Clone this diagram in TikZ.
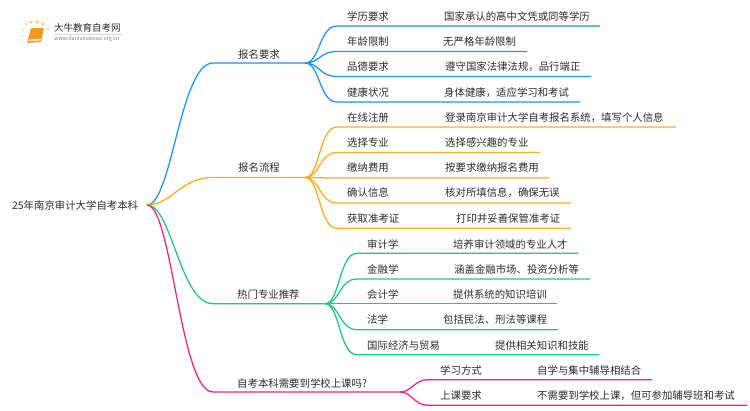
\documentclass[tikz,border=0pt]{standalone}
\usepackage{fontspec}
\setmainfont{Noto Sans CJK SC}
\definecolor{bluebr}{HTML}{1E90FF}
\definecolor{orangebr}{HTML}{FFAD1F}
\definecolor{greenbr}{HTML}{1FC77E}
\definecolor{pinkbr}{HTML}{FF1F7E}
\definecolor{inktext}{HTML}{2B2B2B}
\definecolor{logodotc}{HTML}{FBD27A}
\definecolor{bookc}{HTML}{F39A1E}
\newcommand{\zhcomma}{\char"FF0C\relax}
\tikzset{
	txt/.style={anchor=west, inner sep=0, yshift=-0.8pt, text=inktext, font=\fontsize{10.4}{12}\selectfont},
	logodot/.style={fill=logodotc},
	br/.style={line width=1.25pt}
}
\begin{document}
\begin{tikzpicture}[x=1pt, y=-1pt]
\useasboundingbox (0,0) rectangle (750,410);

% logo
\foreach \dx/\dy/\r in {23/30/1.2, 26/24/1.4, 31/22/1.6, 37/22/1.8, 43/24/1.8, 48/29/1.5, 22/36/1, 23/42/0.8}
	\fill[logodot] (\dx,\dy) circle (\r);
\fill[bookc, rounded corners=1pt] (31,28) -- (44,28) -- (41,42) -- (27,43) -- cycle;
\fill[white!70!bookc] (29,39.5) -- (41,38.5) -- (40.4,40.5) -- (28.5,41.5) -- cycle;
\node[txt, font=\fontsize{9.5}{11}\selectfont] (logoName) at (54,27) {大牛教育自考网};
\node[txt, text=gray, font=\fontsize{5.4}{6}\selectfont] (logoUrl) at (54,38.5) {www.daniuxuexiao.org.cn};
\draw[gray!30, line width=0.5pt] (logoName.south west) ++(0,1.5) -- ++(68,0);

\node[txt] (root) at (12,205) {25年南京审计大学自考本科};
\coordinate (hub) at (147,205);

\coordinate (reqStart) at (213,63);
\coordinate (reqHub) at (305,63);
\coordinate (flowStart) at (213,177.5);
\coordinate (flowHub) at (305,177.5);
\coordinate (hotStart) at (213,303.7);
\coordinate (hotHub) at (325,303.7);
\coordinate (askStart) at (213,392);
\coordinate (askHub) at (400,392);

\node[txt] (req) at (238,54) {报名要求};
\node[txt] (flow) at (238,167) {报名流程};
\node[txt] (hot) at (237,294) {热门专业推荐};
\node[txt] (ask) at (237,382.5) {自考本科需要到学校上课吗?};

% first branch
\foreach \n/\y/\e in {a/26/600, b/51.5/527, c/76.5/591, d/102/580} {
	\coordinate (req\n) at (337,\y);
	\coordinate (req\n End) at (\e,\y);
	\draw[bluebr, br] (reqHub) .. controls +(15,0) and +(-18,0) .. (req\n) -- (req\n End);
}
\node[txt] (eduKey) at (347,16) {学历要求};
\node[txt] (eduVal) at (444,16) {国家承认的高中文凭或同等学历};
\node[txt] (ageKey) at (347,41) {年龄限制};
\node[txt] (ageVal) at (443,41) {无严格年龄限制};
\node[txt] (morKey) at (347,66) {品德要求};
\node[txt] (morVal) at (445,66) {遵守国家法律法规\zhcomma 品行端正};
\node[txt] (heaKey) at (347,92) {健康状况};
\node[txt] (heaVal) at (444,92) {身体健康\zhcomma 适应学习和考试};

% second branch
\foreach \n/\y/\e in {a/127/676, b/152.5/540, c/178/549, d/203/571, e/228.3/571} {
	\coordinate (flow\n) at (337,\y);
	\coordinate (flow\n End) at (\e,\y);
	\draw[orangebr, br] (flowHub) .. controls +(15,0) and +(-18,0) .. (flow\n) -- (flow\n End);
}
\node[txt] (regKey) at (347,117) {在线注册};
\node[txt] (regVal) at (445,117) {登录南京审计大学自考报名系统\zhcomma 填写个人信息};
\node[txt] (majKey) at (347,142) {选择专业};
\node[txt] (majVal) at (445,142) {选择感兴趣的专业};
\node[txt] (payKey) at (347,167) {缴纳费用};
\node[txt] (payVal) at (445,167) {按要求缴纳报名费用};
\node[txt] (infKey) at (347,192) {确认信息};
\node[txt] (infVal) at (445,192) {核对所填信息\zhcomma 确保无误};
\node[txt] (admKey) at (347,218) {获取准考证};
\node[txt] (admVal) at (456,218) {打印并妥善保管准考证};

% third branch
\foreach \n/\y/\e in {a/253.3/578, b/279/590, c/303.7/557, d/329.7/558, e/354.7/599} {
	\coordinate (hot\n) at (357,\y);
	\coordinate (hot\n End) at (\e,\y);
	\draw[greenbr, br] (hotHub) .. controls +(15,0) and +(-18,0) .. (hot\n) -- (hot\n End);
}
\node[txt] (audKey) at (367,244) {审计学};
\node[txt] (audVal) at (453,244) {培养审计领域的专业人才};
\node[txt] (finKey) at (367,269) {金融学};
\node[txt] (finVal) at (454,269) {涵盖金融市场、投资分析等};
\node[txt] (accKey) at (367,294) {会计学};
\node[txt] (accVal) at (453,294) {提供系统的知识培训};
\node[txt] (lawKey) at (367,319) {法学};
\node[txt] (lawVal) at (443,319) {包括民法、刑法等课程};
\node[txt] (ietKey) at (367,345) {国际经济与贸易};
\node[txt] (ietVal) at (495,345) {提供相关知识和技能};

% fourth branch
\foreach \n/\y/\e in {a/379.7/652, b/405.3/747} {
	\coordinate (ask\n) at (428,\y);
	\coordinate (ask\n End) at (\e,\y);
	\draw[pinkbr, br] (askHub) .. controls +(12,0) and +(-14,0) .. (ask\n) -- (ask\n End);
}
\node[txt] (wayKey) at (440,370) {学习方式};
\node[txt] (wayVal) at (537,370) {自学与集中辅导相结合};
\node[txt] (clsKey) at (440,395) {上课要求};
\node[txt] (clsVal) at (537,395) {不需要到学校上课\zhcomma 但可参加辅导班和考试};

% main branches
\draw[bluebr, br] (hub) .. controls +(25,0) and +(-33,0) .. (reqStart) -- (reqHub);
\draw[orangebr, br] (hub) .. controls +(25,0) and +(-33,0) .. (flowStart) -- (flowHub);
\draw[greenbr, br] (hub) .. controls +(25,0) and +(-33,0) .. (hotStart) -- (hotHub);
\draw[pinkbr, br] (hub) .. controls +(25,0) and +(-33,0) .. (askStart) -- (askHub);
\end{tikzpicture}
\end{document}
